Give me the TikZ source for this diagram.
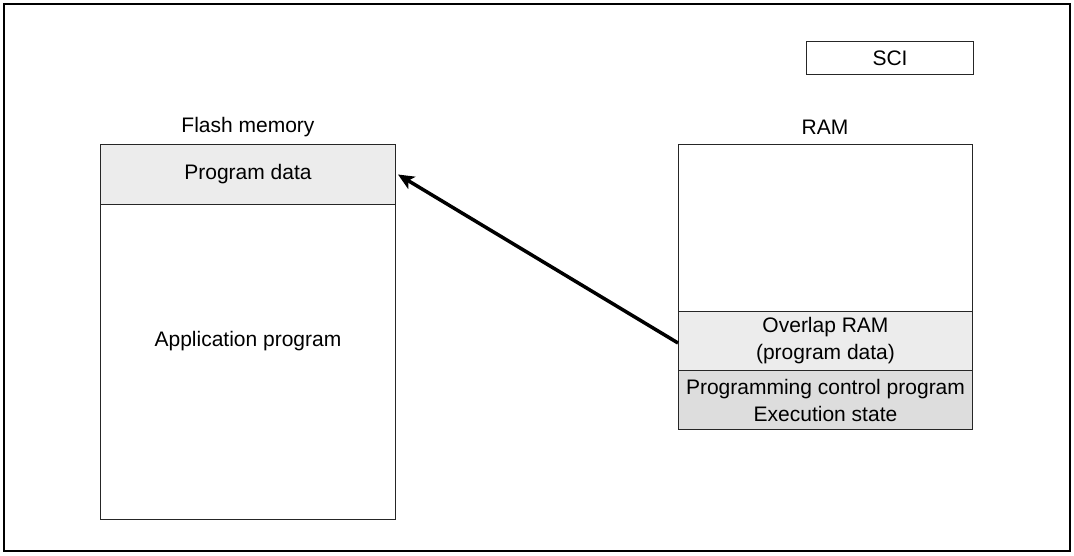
\documentclass[tikz,border=0pt]{standalone}
\usepackage{fontspec}
\setmainfont{Liberation Sans}
\usetikzlibrary{arrows.meta}
\definecolor{lightfill}{HTML}{ECECEC}
\definecolor{darkfill}{HTML}{DDDDDD}
\begin{document}
\begin{tikzpicture}[x=1pt,y=-1pt,
  box/.style={draw=black!85, line width=1pt, rectangle, inner sep=0pt, anchor=north west, align=center, font=\fontsize{21}{27}\selectfont},
  lbl/.style={inner sep=0pt, align=center, font=\fontsize{21}{27}\selectfont}]
\useasboundingbox (0,0) rectangle (1074,555);
\draw[line width=1.7pt] (4,4) rectangle (1070,551);
% SCI
\node[box, minimum width=167pt, minimum height=33pt] (sci) at (806,41) {SCI};
% Flash memory
\node[lbl] (flashlbl) at (248,127) {Flash memory};
\node[box, minimum width=295pt, minimum height=60pt, fill=lightfill] (pd) at (100,144) {Program data};
\node[box, minimum width=295pt, minimum height=315pt] (app) at (100,204) {};
\node[lbl] (apptxt) at (248,341) {Application program};
% RAM
\node[lbl] (ramlbl) at (825,127) {RAM};
\node[box, minimum width=294pt, minimum height=167pt] (ramtop) at (678,144) {};
\node[box, minimum width=294pt, minimum height=59pt, fill=lightfill] (ovl) at (678,311) {Overlap RAM\\(program data)};
\node[box, minimum width=294pt, minimum height=59pt, fill=darkfill] (pcp) at (678,370) {Programming control program\\Execution state};
% Arrow
\draw[line width=3.5pt, -{Stealth[length=16pt, width=14pt, inset=4pt]}] ([yshift=-2pt]ovl.west) -- ([xshift=2pt]pd.east);
\end{tikzpicture}
\end{document}
